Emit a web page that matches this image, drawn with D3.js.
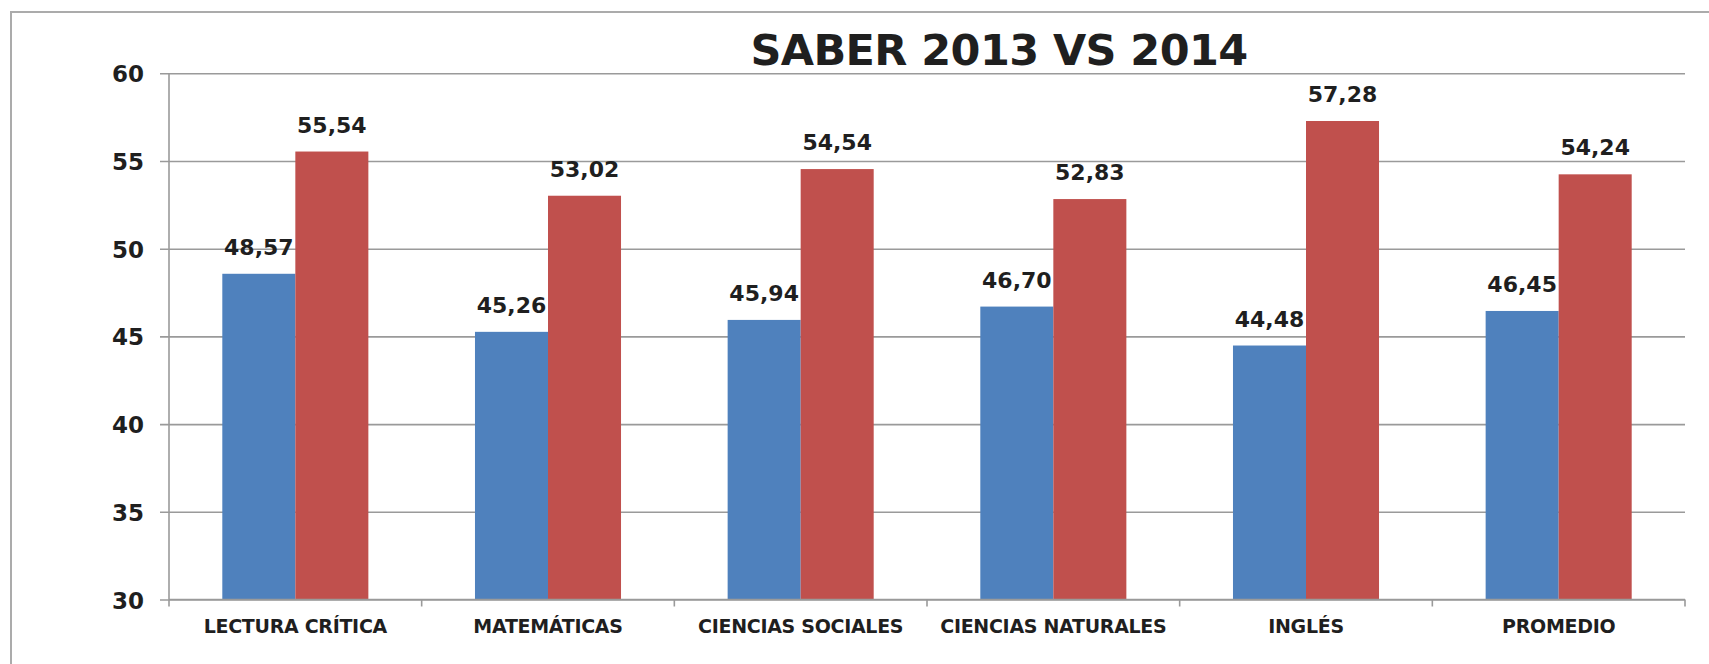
<!DOCTYPE html>
<html>
<head>
<meta charset="utf-8">
<script src="https://cdn.jsdelivr.net/npm/d3@7"></script>
<style>
  html, body { margin: 0; padding: 0; background: #fff; }
  svg { display: block; }
  text { font-family: "DejaVu Sans", sans-serif; font-weight: bold; fill: #1f1f1f; }
</style>
</head>
<body>
<svg id="chart" width="1709" height="664"></svg>
<script>
const categories = ["LECTURA CRÍTICA", "MATEMÁTICAS", "CIENCIAS SOCIALES", "CIENCIAS NATURALES", "INGLÉS", "PROMEDIO"];
const seriesNames = ["2013", "2014"];
const values2013 = [48.57, 45.26, 45.94, 46.70, 44.48, 46.45];
const values2014 = [55.54, 53.02, 54.54, 52.83, 57.28, 54.24];
const yTicks = [30, 35, 40, 45, 50, 55, 60];
const title = "SABER 2013 VS 2014";
const colors = ["#4F81BD", "#C0504D"];

const svg = d3.select("#chart");
const W = 1709, H = 664;
const plot = { left: 169, right: 1685, top: 73.3, bottom: 599.5 };

// frame
svg.append("rect")
  .attr("x", 11).attr("y", 12)
  .attr("width", W + 20).attr("height", H + 20)
  .attr("fill", "none").attr("stroke", "#ababab").attr("stroke-width", 2);

const x0 = d3.scaleBand().domain(categories).range([plot.left, plot.right]).padding(0);
const x1 = d3.scaleBand().domain(seriesNames).range([0, x0.bandwidth()]).paddingInner(0).paddingOuter(0.73);
const y = d3.scaleLinear().domain([30, 60]).range([plot.bottom, plot.top]);

const locale = d3.formatLocale({ decimal: ",", thousands: ".", grouping: [3], currency: ["", ""] });
const fmt = locale.format(".2f");

// gridlines + y axis ticks
const yAxis = d3.axisLeft(y).tickValues(yTicks).tickSize(plot.right - plot.left + 9).tickPadding(16).tickFormat(d3.format("d"));
const gy = svg.append("g").attr("transform", `translate(${plot.right},0)`).call(yAxis);
gy.select(".domain").remove();
gy.selectAll(".tick line").attr("stroke", "#9a9a9a").attr("stroke-width", 1.6);
gy.selectAll(".tick text")
  .attr("x", -(plot.right - plot.left) - 25)
  .attr("dy", "0.37em")
  .style("font-size", "23px").style("font-family", "DejaVu Sans").style("font-weight", "bold").attr("fill", "#1f1f1f");

// y axis line
svg.append("line")
  .attr("x1", plot.left).attr("x2", plot.left)
  .attr("y1", y(60)).attr("y2", y(30))
  .attr("stroke", "#9a9a9a").attr("stroke-width", 1.6);

// bars
const data = categories.map((c, i) => ({ cat: c, vals: [values2013[i], values2014[i]] }));
const groups = svg.append("g").selectAll("g").data(data).join("g")
  .attr("transform", d => `translate(${x0(d.cat)},0)`);

groups.selectAll("rect").data(d => d.vals.map((v, j) => ({ s: seriesNames[j], v, j })))
  .join("rect")
  .attr("x", d => x1(d.s))
  .attr("width", x1.bandwidth())
  .attr("y", d => y(d.v))
  .attr("height", d => y(30) - y(d.v))
  .attr("fill", d => colors[d.j]);

groups.selectAll("text.val").data(d => d.vals.map((v, j) => ({ s: seriesNames[j], v, j })))
  .join("text")
  .attr("class", "val")
  .attr("x", d => x1(d.s) + x1.bandwidth() / 2)
  .attr("y", d => y(d.v) - 19)
  .attr("text-anchor", "middle")
  .style("font-size", "22px")
  .text(d => fmt(d.v));

// x axis
const xAxis = d3.axisBottom(x0).tickSize(0).tickPadding(0);
const gx = svg.append("g").attr("transform", `translate(0,${plot.bottom})`).call(xAxis);
gx.select(".domain").attr("stroke", "#9a9a9a").attr("stroke-width", 1.6).attr("d", `M${plot.left},0H${plot.right}`);
gx.selectAll(".tick text")
  .attr("y", 33).attr("dy", 0)
  .style("font-size", "19px").style("font-family", "DejaVu Sans").style("font-weight", "bold")
  .style("letter-spacing", "-0.3px").attr("fill", "#1f1f1f");

// category boundary tick marks
const bounds = categories.map(c => x0(c)).concat([plot.right]);
svg.append("g").selectAll("line").data(bounds).join("line")
  .attr("x1", d => d).attr("x2", d => d)
  .attr("y1", plot.bottom).attr("y2", plot.bottom + 7)
  .attr("stroke", "#9a9a9a").attr("stroke-width", 1.6);

// title
svg.append("text")
  .attr("x", 999).attr("y", 65)
  .attr("text-anchor", "middle")
  .style("font-size", "43px")
  .style("letter-spacing", "-0.6px")
  .text(title);
</script>
</body>
</html>
